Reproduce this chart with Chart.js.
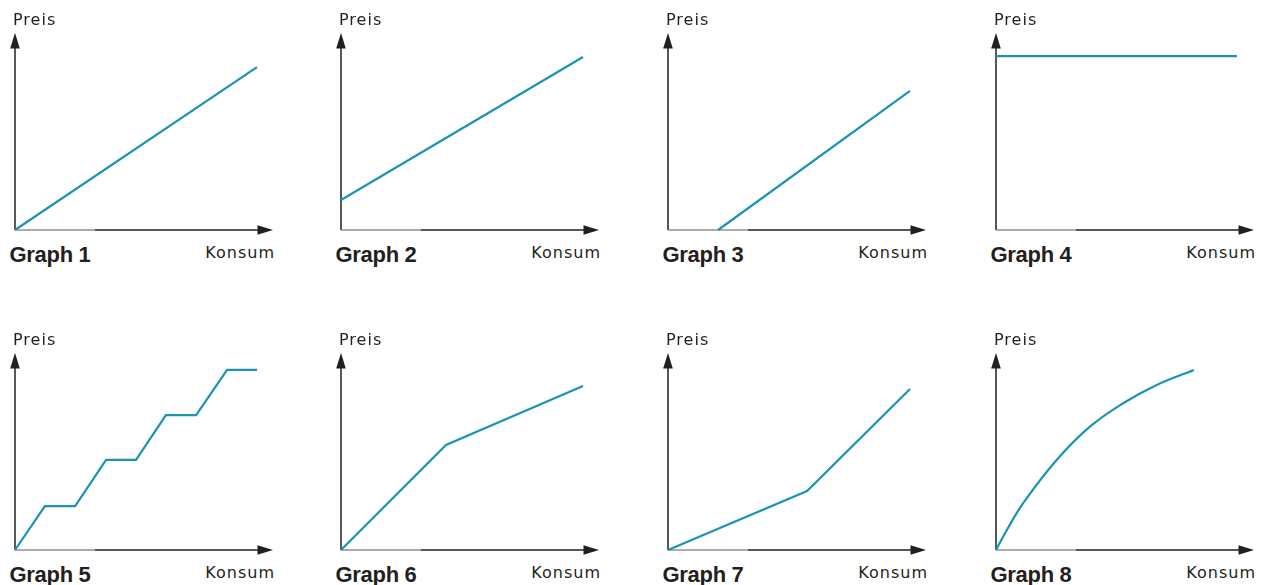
<!DOCTYPE html>
<html>
<head>
  <meta charset="UTF-8">
  <script src="https://cdn.jsdelivr.net/npm/chart.js@4.4.0/dist/chart.umd.min.js"></script>
  <style>
    body { margin: 0; background: #fff; width: 1268px; height: 585px; position: relative; overflow: hidden; }
    .panel { position: absolute; }
    .lbl { position: absolute; font-family: "DejaVu Sans", sans-serif; font-size: 16px; line-height: 16px; letter-spacing: 1px; color: #231f20; white-space: nowrap; }
    .ttl { position: absolute; font-family: "Liberation Sans", Arial, sans-serif; font-weight: bold; font-size: 22px; line-height: 22px; letter-spacing: -0.3px; color: #231f20; white-space: nowrap; }
  </style>
</head>
<body>
<script>
  // values in axis units: 0 = origin, 100 = arrow tip
  const titles = ['Graph 1', 'Graph 2', 'Graph 3', 'Graph 4', 'Graph 5', 'Graph 6', 'Graph 7', 'Graph 8'];
  const yLabel = 'Preis';
  const xLabel = 'Konsum';

  const g1x = [0, 93.8];
  const g1y = [0, 82.7];
  const g2x = [0, 93.8];
  const g2y = [15.2, 87.8];
  const g3x = [19.4, 93.8];
  const g3y = [0, 70.6];
  const g4x = [0, 93.4];
  const g4y = [88.3, 88.3];
  const g5x = [0, 11.6, 23.3, 35.3, 46.9, 58.5, 70.2, 82.2, 93.8];
  const g5y = [0, 22.3, 22.3, 45.7, 45.7, 68.5, 68.5, 91.4, 91.4];
  const g6x = [0, 40.7, 93.8];
  const g6y = [0, 53.3, 83.2];
  const g7x = [0, 53.9, 93.8];
  const g7y = [0, 29.9, 81.7];
  const g8x = [0, 4.1, 10.6, 23.5, 36.4, 49.3, 62.3, 76.7];
  const g8y = [0, 9.9, 23.9, 45.7, 62.6, 74.5, 83.8, 91.4];

  const series = [[g1x, g1y], [g2x, g2y], [g3x, g3y], [g4x, g4y],
                  [g5x, g5y], [g6x, g6y], [g7x, g7y], [g8x, g8y]];

  const originsX = [15, 341, 668, 996];
  const originsY = [230, 550];
  const W = 258, H = 197, PAD = 12;
  const lineColor = '#1b93b5';

  const axesPlugin = {
    id: 'arrowAxes',
    beforeDatasetsDraw(chart) {
      const ctx = chart.ctx;
      const sx = chart.scales.x, sy = chart.scales.y;
      const x0 = sx.getPixelForValue(0), y0 = sy.getPixelForValue(0);
      const xt = sx.getPixelForValue(100), yt = sy.getPixelForValue(100);
      const xs = sx.getPixelForValue(31);
      ctx.save();
      // y axis
      ctx.strokeStyle = '#231f20';
      ctx.lineWidth = 1.5;
      ctx.beginPath();
      ctx.moveTo(x0, y0);
      ctx.lineTo(x0, yt + 12);
      ctx.stroke();
      // x axis, first part drawn lighter
      ctx.strokeStyle = '#5a5a5a';
      ctx.lineWidth = 1.2;
      ctx.beginPath();
      ctx.moveTo(x0, y0);
      ctx.lineTo(xs, y0);
      ctx.stroke();
      ctx.strokeStyle = '#231f20';
      ctx.lineWidth = 1.6;
      ctx.beginPath();
      ctx.moveTo(xs, y0);
      ctx.lineTo(xt - 12, y0);
      ctx.stroke();
      // arrow heads
      ctx.fillStyle = '#231f20';
      ctx.beginPath();
      ctx.moveTo(x0, yt);
      ctx.lineTo(x0 - 4.8, yt + 15.5);
      ctx.lineTo(x0 + 4.8, yt + 15.5);
      ctx.closePath();
      ctx.fill();
      ctx.beginPath();
      ctx.moveTo(xt, y0);
      ctx.lineTo(xt - 15.5, y0 - 4.8);
      ctx.lineTo(xt - 15.5, y0 + 4.8);
      ctx.closePath();
      ctx.fill();
      ctx.restore();
    }
  };

  function addText(cls, text, left, top, right) {
    const d = document.createElement('div');
    d.className = cls;
    d.textContent = text;
    d.style.top = top + 'px';
    if (right !== undefined) d.style.right = right + 'px';
    else d.style.left = left + 'px';
    document.body.appendChild(d);
  }

  series.forEach(function(s, i) {
    const ox = originsX[i % 4];
    const oy = originsY[Math.floor(i / 4)];

    const wrap = document.createElement('div');
    wrap.className = 'panel';
    wrap.style.left = (ox - PAD) + 'px';
    wrap.style.top = (oy - H - PAD) + 'px';
    const canvas = document.createElement('canvas');
    canvas.width = W + 2 * PAD;
    canvas.height = H + 2 * PAD;
    wrap.appendChild(canvas);
    document.body.appendChild(wrap);

    const pts = s[0].map(function(x, k) { return { x: x, y: s[1][k] }; });

    new Chart(canvas.getContext('2d'), {
      type: 'line',
      data: {
        datasets: [{
          data: pts,
          borderColor: lineColor,
          borderWidth: 2.2,
          pointRadius: 0,
          fill: false,
          borderJoinStyle: 'miter',
          tension: i === 7 ? 0.4 : 0,
          clip: false
        }]
      },
      options: {
        responsive: false,
        animation: false,
        events: [],
        layout: { padding: PAD },
        plugins: { legend: { display: false }, tooltip: { enabled: false } },
        scales: {
          x: { type: 'linear', min: 0, max: 100, display: false },
          y: { type: 'linear', min: 0, max: 100, display: false }
        }
      },
      plugins: [axesPlugin]
    });

    addText('lbl', yLabel, ox - 2, oy - 230 + 11.5);
    addText('lbl', xLabel, null, oy - 230 + 244.8, 1268 - (ox + W + 2));
    addText('ttl', titles[i], ox - 5.5, oy - 230 + 244.4);
  });
</script>
</body>
</html>
